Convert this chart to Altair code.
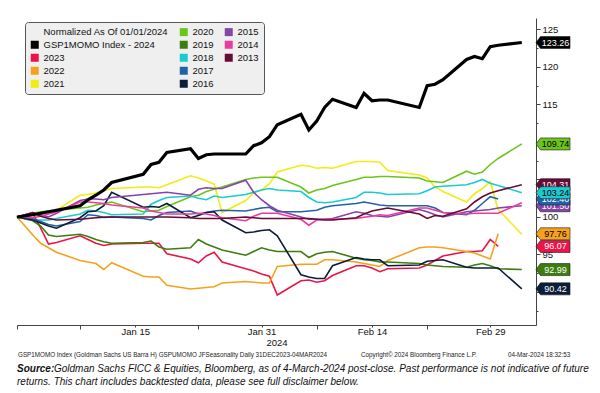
import altair as alt
import pandas as pd

# ---------------- data ----------------
# x = calendar day counted from 31-Dec-2023 (trading days only)
DAYS = [0, 2, 3, 4, 5, 8, 9, 10, 11, 12, 16, 17, 18, 19, 22, 23, 24, 25, 26, 29,
        30, 31, 32, 33, 36, 37, 38, 39, 40, 43, 44, 45, 46, 47, 51, 52, 53, 54,
        57, 58, 59, 60, 61, 64]

GSP = [100, 100.3, 100.5, 100.7, 100.9, 101.5, 102.3, 102.9, 103.6, 104.6, 105.7, 107.0,
       107.3, 108.6, 109.1, 107.8, 108.3, 108.4, 108.4, 108.4, 109.5, 109.9, 110.7, 112.3,
       113.7, 111.6, 112.8, 114.6, 115.7, 114.6, 116.5, 115.5, 115.6, 115.6, 114.6, 117.5,
       117.7, 118.3, 121.0, 121.4, 121.1, 122.7, 122.9, 123.26]
Y2023 = [100, 100.5, 98.5, 96.4, 96.6, 97.5, 97.0, 96.5, 96.2, 96.4, 96.5, 96.5, 96.5,
         95.1, 94.4, 93.9, 94.8, 95.3, 94.0, 93.1, 92.8, 92.4, 92.1, 89.6, 91.5, 91.6,
         91.3, 91.5, 92.2, 93.5, 93.5, 93.2, 92.7, 93.1, 93.2, 93.6, 94.2, 94.8, 95.4,
         95.4, 95.5, 97.0, 96.07, None]
Y2022 = [100, 97.6, 96.5, 95.9, 95.3, 94.2, 94.0, 93.8, 93.0, 93.9, 92.1, 92.0, 92.0,
         90.9, 90.4, 90.5, 90.6, 90.7, 91.2, 91.4, 91.3, 91.2, 91.2, 93.4, 93.7, 93.7,
         93.7, 94.3, 94.3, 94.0, 93.8, 93.6, 93.4, 94.2, 95.9, 96.0, 96.0, 95.9, 95.4,
         95.2, 94.8, 94.4, 97.76, None]
Y2021 = [100, 100.4, 100.5, 100.7, 100.9, 102.9, 103.0, 103.2, 103.5, 103.8, 104.0, 104.0,
         103.9, 104.3, 105.5, 105.2, 104.8, 104.4, 100.6, 102.2, 103.2, 103.6, 104.4, 106.0,
         106.9, 106.8, 106.5, 106.6, 106.5, 107.4, 107.4, 107.4, 107.3, 106.2, 105.6, 105.2,
         104.0, 103.4, 102.0, 103.1, 103.8, 104.7, 101.0, 97.7]
Y2020 = [100, 100.5, 100.7, 100.8, 100.9, 101.2, 101.3, 101.6, 101.8, 102.0, 100.7, 100.8,
         100.9, 101.4, 102.7, 102.9, 103.4, 103.7, 104.0, 105.0, 105.2, 105.3, 105.3, 105.3,
         104.0, 103.2, 103.6, 103.8, 104.2, 105.0, 105.3, 105.3, 105.4, 105.4, 105.2, 104.8,
         104.7, 104.6, 106.1, 105.7, 106.0, 107.0, 107.8, 109.74]
Y2019 = [100, 99.5, 98.8, 97.6, 97.4, 97.7, 97.4, 97.0, 96.7, 96.5, 96.6, 96.8, 96.0,
         95.7, 95.9, 97.0, 96.4, 96.0, 95.6, 94.9, 95.4, 95.9, 95.6, 95.4, 95.4, 94.6,
         95.1, 95.3, 95.4, 94.5, 94.3, 94.2, 94.0, 94.0, 93.8, 93.6, 93.5, 93.4, 93.3,
         93.6, 93.8, 93.5, 93.1, 92.99]
Y2018 = [100, 99.6, 99.6, 99.6, 99.8, 100.4, 100.9, 100.8, 100.6, 100.3, 100.4, 101.7,
         102.2, 102.6, 102.8, 102.5, 102.3, 102.8, 102.6, 103.0, 103.3, 103.6, 103.8, 103.6,
         103.4, 102.6, 102.0, 101.9, 102.0, 102.6, 103.3, 103.3, 103.2, 103.0, 103.1, 103.5,
         104.0, 104.1, 104.3, 104.6, 105.0, 104.5, 104.2, 103.24]
Y2017 = [100, 99.8, 99.4, 99.0, 98.8, 99.4, 100.3, 100.2, 99.95, 100.0, 99.8, 99.6, 100.2,
         100.6, 100.8, 100.4, 100.6, 100.8, 100.9, 100.8, 101.0, 101.2, 101.3, 100.7, 100.7,
         100.8, 100.9, 101.3, 101.5, 101.8, 102.0, 101.8, 101.6, 101.5, 101.5, 101.5, 101.2,
         100.6, 100.3, 100.9, 101.8, 102.7, 102.4, None]
Y2016 = [100, 99.6, 99.2, 98.8, 98.5, 99.9, 100.7, 100.8, 101.5, 103.3, 101.3, 101.4,
         101.3, 101.8, 99.9, 100.2, 100.6, 100.7, 99.6, 97.9, 98.0, 98.2, 98.3, 97.5,
         92.3, 92.0, 91.8, 91.8, 93.5, 94.6, 94.4, 94.3, 94.3, 93.5, 93.6, 94.1, 94.2,
         94.3, 93.3, 93.2, 93.2, 93.2, 93.2, 90.42]
Y2015 = [100, 100.6, 100.3, 100.0, 100.5, 102.2, 102.4, 102.4, 102.3, 102.6, 103.0, 103.1,
         103.2, 103.3, 102.9, 103.7, 103.9, 103.8, 103.8, 104.9, 103.3, 102.3, 101.5, 100.9,
         100.0, 99.7, 99.7, 99.7, 99.8, 100.7, 100.5, 100.2, 100.1, 100.0, 101.0, 100.7,
         100.3, 100.0, 100.7, 100.8, 100.9, 101.0, 101.2, 101.5]
Y2014 = [100, 99.9, 100.1, 100.4, 100.7, 102.0, 102.0, 101.9, 101.8, 101.6, 101.2, 100.8,
         100.6, 100.4, 100.4, 100.5, 100.4, 100.2, 99.9, 99.5, 100.1, 100.5, 100.5, 100.5,
         99.7, 98.9, 99.6, 99.7, 99.7, 99.8, 99.96, 100.1, 100.3, 100.2, 101.2, 101.2,
         100.9, 100.6, 100.4, 100.5, 100.5, 100.5, 100.5, 101.9]
Y2013 = [100, 100.6, 100.1, 99.8, 99.6, 99.7, 99.8, 99.9, 99.96, 100.0, 100.0, 100.0,
         100.0, 100.0, 99.9, 99.8, 99.8, 99.8, 99.8, 100.0, 99.9, 99.8, 99.8, 99.8,
         99.8, 99.8, 99.7, 99.6, 99.6, 99.9, 100.4, 100.8, 101.0, 101.2, 100.4, 99.8,
         100.2, 100.1, 101.1, 102.0, 102.7, 103.2, 103.5, 104.31]

GSP_NAME = "GSP1MOMO Index - 2024"
SERIES_NAMES = [GSP_NAME, "2023", "2022", "2021", "2020", "2019", "2018", "2017",
                "2016", "2015", "2014", "2013"]
SERIES_VALUES = [GSP, Y2023, Y2022, Y2021, Y2020, Y2019, Y2018, Y2017, Y2016,
                 Y2015, Y2014, Y2013]
SERIES_COLORS = ["#000000", "#ea1547", "#f6a11c", "#f1ec12", "#6cc51a", "#3d7d0e",
                 "#1ccad2", "#2462a8", "#0c1d38", "#8643a8", "#ec3aa0", "#650b34"]

# legend entries, filled column by column (5 rows x 3 columns)
LEGEND_TITLE = "Normalized As Of 01/01/2024"
LEGEND_ORDER = [LEGEND_TITLE, GSP_NAME, "2023", "2022", "2021",
                "2020", "2019", "2018", "2017", "2016",
                "2015", "2014", "2013", " ", "  "]

# x-axis: tick marks and labels
TICK_DAYS = [0, 8, 23, 38, 52]
LABEL_DAYS = [15, 31, 45, 60]
LABEL_TEXT = ["Jan 15", "Jan 31", "Feb 14", "Feb 29"]
YEAR_TEXT = "2024"

# y-axis
Y_TICKS = [87.5, 90, 92.5, 95, 97.5, 100, 102.5, 105, 107.5, 110, 112.5, 115, 117.5,
           120, 122.5, 125]
Y_LABELLED = [125, 120, 115, 100, 95]
Y_MAJOR = [125, 120, 115, 110, 105, 100, 95, 90]

# value tags at the right axis (draw order: bottom -> top)
TAG_ORDER = ["2015", "2017", "2013", "2018", GSP_NAME, "2020", "2022", "2023", "2019", "2016"]
TAG_TEXT_COLORS = ["#ffffff", "#ffffff", "#ffffff", "#000000", "#ffffff", "#000000",
                   "#000000", "#ffffff", "#ffffff", "#ffffff"]

FOOT1_LEFT = "GSP1MOMO Index (Goldman Sachs US Barra H) GSPUMOMO JFSeasonality  Daily 31DEC2023-04MAR2024"
FOOT1_MID = "Copyright\u00a9 2024 Bloomberg Finance L.P."
FOOT1_RIGHT = "04-Mar-2024 18:32:53"
SOURCE_LABEL = "Source:"
SOURCE_TEXT = ("Goldman Sachs FICC & Equities, Bloomberg, as of 4-March-2024 post-close. "
               "Past performance is not indicative of future")
LINE3 = "returns. This chart includes backtested data, please see full disclaimer below."

# ---------------- build ----------------
rows = []
for name, vals in zip(SERIES_NAMES, SERIES_VALUES):
    for d, v in zip(DAYS, vals):
        if v is not None:
            rows.append({"series": name, "day": d, "value": v})
df = pd.DataFrame(rows)

color_of = dict(zip(SERIES_NAMES, SERIES_COLORS))
legend_range = [color_of.get(n, "rgba(0,0,0,0)") for n in LEGEND_ORDER]

FONT = "Liberation Sans"

x_scale = alt.Scale(domain=[0, 65.8], nice=False, zero=False)
y_scale = alt.Scale(domain=[85.6, 126.53], nice=False, zero=False)
color_scale = alt.Scale(domain=LEGEND_ORDER, range=legend_range)

x_label_expr = " : ".join(f"datum.value == {d} ? '{t}'" for d, t in zip(LABEL_DAYS, LABEL_TEXT)) + " : ''"
x_axis = alt.Axis(
    values=TICK_DAYS + LABEL_DAYS, labelExpr=x_label_expr, title=None,
    labelFontSize=9.5, labelColor="#111111", labelPadding=-1,
    tickSize={"condition": {"test": "indexof(" + str(TICK_DAYS) + ", datum.value) >= 0", "value": 4}, "value": 2},
    tickColor="#444444", domainColor="#444444", grid=False,
    labelOverlap=False, labelFlush=False,
)
y_axis = alt.Axis(
    orient="right", values=Y_TICKS, title=None,
    labelExpr="indexof(" + str(Y_LABELLED) + ", datum.value) >= 0 ? datum.label : ''",
    labelFontSize=9.5, labelColor="#111111", labelPadding=2,
    tickSize={"condition": {"test": "indexof(" + str(Y_MAJOR) + ", datum.value) >= 0", "value": 4}, "value": 2},
    tickColor="#444444", domainColor="#444444", grid=False, labelOverlap=False,
)
legend = alt.Legend(
    title=None, orient="none", legendX=8, legendY=4, columns=3, direction="vertical",
    symbolType="square", symbolSize=64, symbolStrokeWidth=0,
    labelFontSize=9.5, labelColor="#111111", labelOffset=4, labelLimit=300,
    fillColor="#efefef", strokeColor="#555555", cornerRadius=3, padding=5,
    rowPadding=2, columnPadding=10,
)

X = alt.X("day:Q", scale=x_scale, axis=x_axis)
Y = alt.Y("value:Q", scale=y_scale, axis=y_axis)

# legend carrier: filled squares, no drawable rows (null positions are filtered out)
legend_df = pd.DataFrame({"series": LEGEND_ORDER, "day": [None] * len(LEGEND_ORDER),
                          "value": [None] * len(LEGEND_ORDER)})
legend_layer = alt.Chart(legend_df).mark_square(filled=True, size=64, opacity=1).encode(
    x=X, y=Y, color=alt.Color("series:N", scale=color_scale, legend=legend),
)

base = alt.Chart(df)
colored = base.transform_filter(alt.datum.series != GSP_NAME).mark_line(strokeWidth=1.6).encode(
    x=X, y=Y, color=alt.Color("series:N", scale=color_scale, legend=None),
)
black = base.transform_filter(alt.datum.series == GSP_NAME).mark_line(strokeWidth=3.2).encode(
    x=X, y=Y, color=alt.Color("series:N", scale=color_scale, legend=None),
)

# tag table from the last value of each series
last_vals = {n: [v for v in vals if v is not None][-1] for n, vals in zip(SERIES_NAMES, SERIES_VALUES)}
tags = pd.DataFrame({
    "series": TAG_ORDER,
    "value": [last_vals[n] for n in TAG_ORDER],
})
TAG_PATH = "M -1 0 L -0.735 -0.353 L 1 -0.353 L 1 0.353 L -0.735 0.353 Z"
tag_layers = []
for name, tcol in zip(TAG_ORDER, TAG_TEXT_COLORS):
    t = alt.Chart(tags).transform_filter(alt.datum.series == name)
    tag_layers.append(
        t.mark_point(shape=TAG_PATH, filled=True, size=1156, opacity=1,
                     stroke="#1a1a1a", strokeWidth=0.6).encode(
            x=alt.value(536), y=Y, fill=alt.value(color_of[name]),
        )
    )
    tag_layers.append(
        t.mark_text(align="center", baseline="middle", fontSize=9, color=tcol, font=FONT).encode(
            x=alt.value(538.5), y=Y, text=alt.Text("value:Q", format=".2f"),
        )
    )

# all annotation texts in one table, drawn by one text layer per style
notes_df = pd.DataFrame({
    "t": [YEAR_TEXT, FOOT1_LEFT, FOOT1_MID, FOOT1_RIGHT, SOURCE_LABEL, SOURCE_TEXT, LINE3],
    "kind": ["year", "small", "small", "small", "bold", "italic", "italic"],
    "px": [260, 1, 344, 491, 0, 37, 0],
    "py": [325, 337, 337, 337, 351, 351, 364],
})


def note_layer(kind, size, weight="normal", style="normal", align="left", color="#111111"):
    return alt.Chart(notes_df).transform_filter(alt.datum.kind == kind).mark_text(
        align=align, baseline="middle", fontSize=size, fontWeight=weight,
        fontStyle=style, font=FONT, color=color,
    ).encode(
        x=alt.X("px:Q", scale=None, axis=None),
        y=alt.Y("py:Q", scale=None, axis=None),
        text="t:N",
    )


notes = [
    note_layer("year", 9.5, align="center"),
    note_layer("small", 6.3, color="#222222"),
    note_layer("bold", 10, weight="bold", style="italic"),
    note_layer("italic", 10, style="italic"),
]

chart = alt.layer(legend_layer, colored, black, *tag_layers, *notes).properties(
    width=519, height=307,
    autosize=alt.AutoSizeParams(type="none"),
    padding={"left": 9, "top": 10, "right": 56, "bottom": 64},
).configure(font=FONT).configure_view(stroke=None)

chart.save("out.html", embed_options={"renderer": "svg", "actions": False})
